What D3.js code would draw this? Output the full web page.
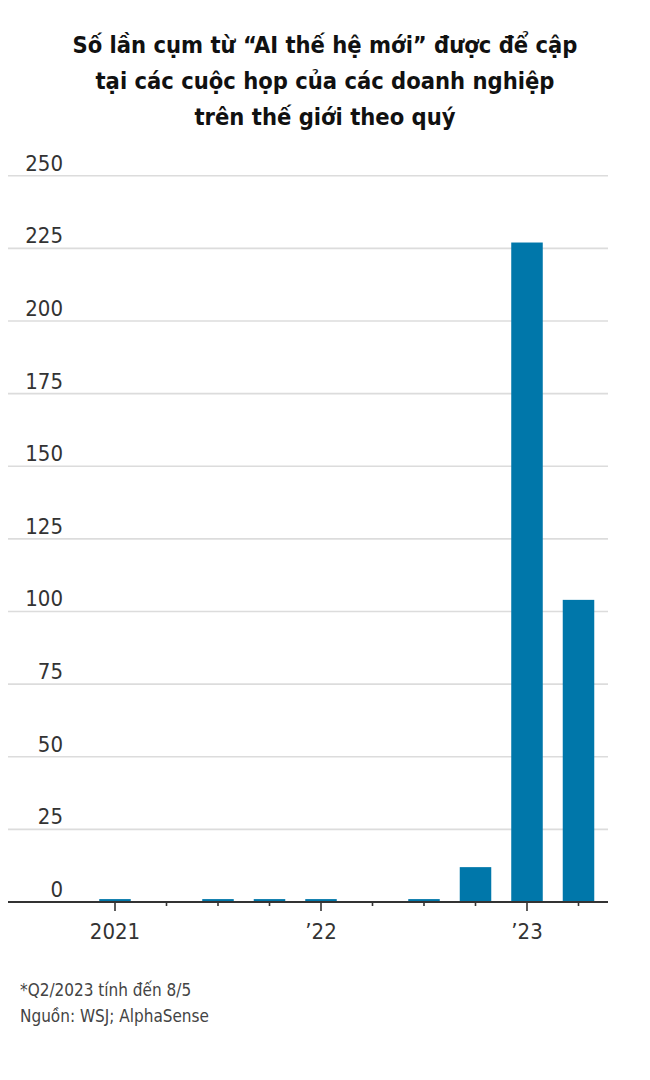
<!DOCTYPE html>
<html>
<head>
<meta charset="utf-8">
<script src="https://cdn.jsdelivr.net/npm/d3@7"></script>
<style>
  html, body { margin: 0; padding: 0; background: #fff; }
  svg { display: block; }
  .title { font-family: "DejaVu Sans Condensed", "Liberation Sans Narrow", sans-serif; font-weight: bold; font-size: 23.5px; fill: #111; }
  .lbl { font-family: "DejaVu Sans Condensed", "Liberation Sans Narrow", sans-serif; font-size: 22px; fill: #333; }
  .note { font-family: "DejaVu Sans Condensed", "Liberation Sans Narrow", sans-serif; font-size: 17px; fill: #444; }
</style>
</head>
<body>
<script>
const quarters = ["Q1-2021","Q2-2021","Q3-2021","Q4-2021","Q1-2022","Q2-2022","Q3-2022","Q4-2022","Q1-2023","Q2-2023"];
const values = [1, 0, 1, 1, 1, 0, 1, 12, 227, 104];
const xTickLabels = {"Q1-2021": "2021", "Q1-2022": "’22", "Q1-2023": "’23"};
const yTicks = [0, 25, 50, 75, 100, 125, 150, 175, 200, 225, 250];
const titleLines = ["Số lần cụm từ “AI thế hệ mới” được để cập", "tại các cuộc họp của các doanh nghiệp", "trên thế giới theo quý"];
const notes = ["*Q2/2023 tính đến 8/5", "Nguồn: WSJ; AlphaSense"];

const W = 650, H = 1080;
const svg = d3.select("body").append("svg").attr("width", W).attr("height", H);

// Title
svg.append("g").selectAll("text").data(titleLines).join("text")
  .attr("class", "title")
  .attr("x", W / 2)
  .attr("y", (d, i) => 53 + i * 36)
  .attr("text-anchor", "middle")
  .text(d => d);

const gridLeft = 8, gridRight = 608;
const y = d3.scaleLinear().domain([0, 250]).range([902, 175.7]);
const x = d3.scaleBand().domain(quarters).range([89.25, 604.25]).paddingInner(0.388).paddingOuter(0.194);

// gridlines
svg.append("g").selectAll("line").data(yTicks.filter(d => d > 0)).join("line")
  .attr("x1", gridLeft).attr("x2", gridRight)
  .attr("y1", d => y(d)).attr("y2", d => y(d))
  .attr("stroke", "#dcdcdc").attr("stroke-width", 1.6);

// y labels
svg.append("g").selectAll("text").data(yTicks).join("text")
  .attr("class", "lbl")
  .attr("x", 63)
  .attr("y", d => y(d) - 5)
  .attr("text-anchor", "end")
  .text(d => d);

// bars
svg.append("g").selectAll("rect").data(values).join("rect")
  .attr("x", (d, i) => x(quarters[i]))
  .attr("width", x.bandwidth())
  .attr("y", d => y(d))
  .attr("height", d => y(0) - y(d))
  .attr("fill", "#0077aa");

// x axis
const xAxis = d3.axisBottom(x).tickSizeOuter(0).tickFormat(d => xTickLabels[d] || "");
const gx = svg.append("g").attr("transform", `translate(0,${y(0)})`).call(xAxis);
gx.select(".domain").remove();
gx.selectAll(".tick line")
  .attr("stroke", "#333").attr("stroke-width", 1.6)
  .attr("y2", d => xTickLabels[d] ? 9 : 4);
gx.selectAll(".tick text")
  .attr("class", "lbl")
  .attr("font-size", null).attr("font-family", null).attr("fill", null)
  .attr("y", 21).attr("dy", "0.71em");
svg.append("line")
  .attr("x1", gridLeft).attr("x2", gridRight)
  .attr("y1", y(0)).attr("y2", y(0))
  .attr("stroke", "#333").attr("stroke-width", 2);

// notes
svg.append("g").selectAll("text").data(notes).join("text")
  .attr("class", "note")
  .attr("x", 20)
  .attr("y", (d, i) => 996 + i * 26)
  .text(d => d);
</script>
</body>
</html>
